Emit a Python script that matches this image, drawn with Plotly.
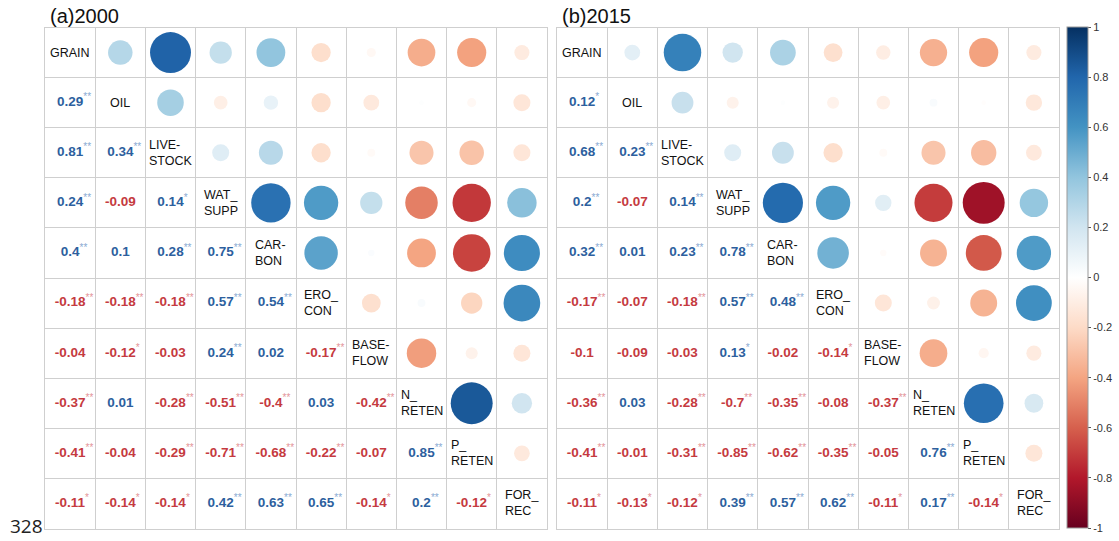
import numpy as np
import plotly.graph_objects as go

variables = ["GRAIN", "OIL", "LIVESTOCK", "WAT_SUPP", "CARBON", "ERO_CON",
             "BASEFLOW", "N_RETEN", "P_RETEN", "FOR_REC"]
diag_labels = ["GRAIN", "OIL", "LIVE-<br>STOCK", "WAT_<br>SUPP", "CAR-<br>BON",
               "ERO_<br>CON", "BASE-<br>FLOW", "N_<br>RETEN", "P_<br>RETEN", "FOR_<br>REC"]

# lower-triangle correlations (row i, columns 0..i-1)
r2000 = [
    [],
    [0.29],
    [0.81, 0.34],
    [0.24, -0.09, 0.14],
    [0.4, 0.1, 0.28, 0.75],
    [-0.18, -0.18, -0.18, 0.57, 0.54],
    [-0.04, -0.12, -0.03, 0.24, 0.02, -0.17],
    [-0.37, 0.01, -0.28, -0.51, -0.4, 0.03, -0.42],
    [-0.41, -0.04, -0.29, -0.71, -0.68, -0.22, -0.07, 0.85],
    [-0.11, -0.14, -0.14, 0.42, 0.63, 0.65, -0.14, 0.2, -0.12],
]
sig2000 = [
    [],
    ["**"],
    ["**", "**"],
    ["**", "", "*"],
    ["**", "", "**", "**"],
    ["**", "**", "**", "**", "**"],
    ["", "*", "", "**", "", "**"],
    ["**", "", "**", "**", "**", "", "**"],
    ["**", "", "**", "**", "**", "**", "", "**"],
    ["*", "*", "*", "**", "**", "**", "*", "**", "*"],
]
r2015 = [
    [],
    [0.12],
    [0.68, 0.23],
    [0.2, -0.07, 0.14],
    [0.32, 0.01, 0.23, 0.78],
    [-0.17, -0.07, -0.18, 0.57, 0.48],
    [-0.1, -0.09, -0.03, 0.13, -0.02, -0.14],
    [-0.36, 0.03, -0.28, -0.7, -0.35, -0.08, -0.37],
    [-0.41, -0.01, -0.31, -0.85, -0.62, -0.35, -0.05, 0.76],
    [-0.11, -0.13, -0.12, 0.39, 0.57, 0.62, -0.11, 0.17, -0.14],
]
sig2015 = [
    [],
    ["*"],
    ["**", "**"],
    ["**", "", "**"],
    ["**", "", "**", "**"],
    ["**", "", "**", "**", "**"],
    ["", "", "", "*", "", "*"],
    ["**", "", "**", "**", "**", "", "**"],
    ["**", "", "**", "**", "**", "**", "", "**"],
    ["*", "*", "*", "**", "**", "**", "*", "**", "*"],
]
panel_titles = ["(a)2000", "(b)2015"]
cbar_ticks = [1, 0.8, 0.6, 0.4, 0.2, 0, -0.2, -0.4, -0.6, -0.8, -1]

colorscale_hex = ["#67001F", "#B2182B", "#D6604D", "#F4A582", "#FDDBC7", "#FFFFFF",
                  "#D1E5F0", "#92C5DE", "#4393C3", "#2166AC", "#053061"]
colorscale = [[i / 10, c] for i, c in enumerate(colorscale_hex)]

W, H = 1119, 541
FONT = "Liberation Sans, Arial, sans-serif"
BLUE_T, RED_T = "#2D5F9E", "#C53A40"
BLUE_S, RED_S = "#8AAAD2", "#E3959A"
GRID = "#CFCFCF"

fig = go.Figure()

n = len(variables)
panels = [(r2000, sig2000), (r2015, sig2015)]
xdoms = [(45 / W, 547 / W), (557 / W, 1059 / W)]
ydom = (1 - 528.5 / H, 1 - 27.5 / H)

for p, (rows, sigs) in enumerate(panels):
    xa = "x" if p == 0 else "x2"
    ya = "y" if p == 0 else "y2"
    # circles (upper triangle)
    cx, cy, cv, cs = [], [], [], []
    for i in range(n):
        for j in range(i + 1, n):
            v = rows[j][i]
            cx.append(j)
            cy.append(i)
            cv.append(v)
            cs.append(45.5 * np.sqrt(abs(v)))
    fig.add_trace(go.Scatter(
        x=cx, y=cy, mode="markers", xaxis=xa, yaxis=ya, hoverinfo="skip",
        marker=dict(size=cs, color=cv, colorscale=colorscale, cmin=-1, cmax=1,
                    opacity=1, line=dict(width=0),
                    showscale=(p == 1),
                    colorbar=dict(
                        x=1067 / W, xanchor="left", xpad=0, ypad=0,
                        y=1 - 277.5 / H, yanchor="middle",
                        lenmode="pixels", len=501, thickness=21,
                        outlinecolor="#9A9A9A", outlinewidth=1,
                        tickvals=cbar_ticks, ticktext=[f"{t:g}" for t in cbar_ticks],
                        ticks="outside", ticklen=3, tickcolor="#555",
                        tickfont=dict(family=FONT, size=11, color="#333"),
                    ) if p == 1 else None),
        showlegend=False))
    # numbers (lower triangle)
    tx, ty, tt = [], [], []
    for i in range(n):
        for j in range(i):
            v = rows[i][j]
            s = sigs[i][j]
            tc = BLUE_T if v >= 0 else RED_T
            sc = BLUE_S if v >= 0 else RED_S
            txt = f"<span style='color:{tc}'><b>{v:g}</b></span>"
            if s:
                star = "<sup><span style='font-size:10px;color:{c}'>{s}</span></sup>"
                txt = (star.format(c="rgba(0,0,0,0)", s=s) + txt
                       + star.format(c=sc, s=s))
            tx.append(j)
            ty.append(i)
            tt.append(txt)
    fig.add_trace(go.Scatter(
        x=tx, y=ty, mode="text", text=tt, xaxis=xa, yaxis=ya, hoverinfo="skip",
        textposition="middle center",
        textfont=dict(family=FONT, size=13.5),
        showlegend=False))
    # diagonal labels
    for i in range(n):
        fig.add_annotation(x=i, y=i, xref=xa, yref=ya, text=diag_labels[i],
                           showarrow=False, xanchor="center", yanchor="middle",
                           align="left",
                           font=dict(family=FONT, size=12.5, color="#111"))
    # panel title
    fig.add_annotation(x=xdoms[p][0] + 3 / W, y=1 - 16 / H, xref="paper", yref="paper",
                       text=panel_titles[p], showarrow=False, xanchor="left",
                       yanchor="middle", font=dict(family=FONT, size=20, color="#111"))

axis_common = dict(range=[-0.5, n - 0.5], tickmode="array",
                   tickvals=[k - 0.5 for k in range(n + 1)], showticklabels=False,
                   ticks="", showgrid=True, gridcolor=GRID, gridwidth=1,
                   zeroline=False, showline=True, linecolor=GRID, linewidth=1,
                   mirror=True, fixedrange=True)
fig.update_layout(
    width=W, height=H,
    margin=dict(l=0, r=0, t=0, b=0),
    paper_bgcolor="white", plot_bgcolor="white",
    xaxis=dict(domain=xdoms[0], anchor="y", **axis_common),
    yaxis=dict(domain=ydom, anchor="x", autorange=False,
               **{**axis_common, "range": [n - 0.5, -0.5]}),
    xaxis2=dict(domain=xdoms[1], anchor="y2", **axis_common),
    yaxis2=dict(domain=ydom, anchor="x2", autorange=False,
                **{**axis_common, "range": [n - 0.5, -0.5]}),
)
fig.add_annotation(x=8 / W, y=1 - 526 / H, xref="paper", yref="paper", text="328",
                   showarrow=False, xanchor="left", yanchor="middle",
                   font=dict(family="Open Sans, DejaVu Sans, sans-serif", size=19,
                             color="#222"))

fig.write_html("out.html", config={"displayModeBar": False},
               post_script="document.body.style.margin='0';document.body.style.overflow='hidden';")
